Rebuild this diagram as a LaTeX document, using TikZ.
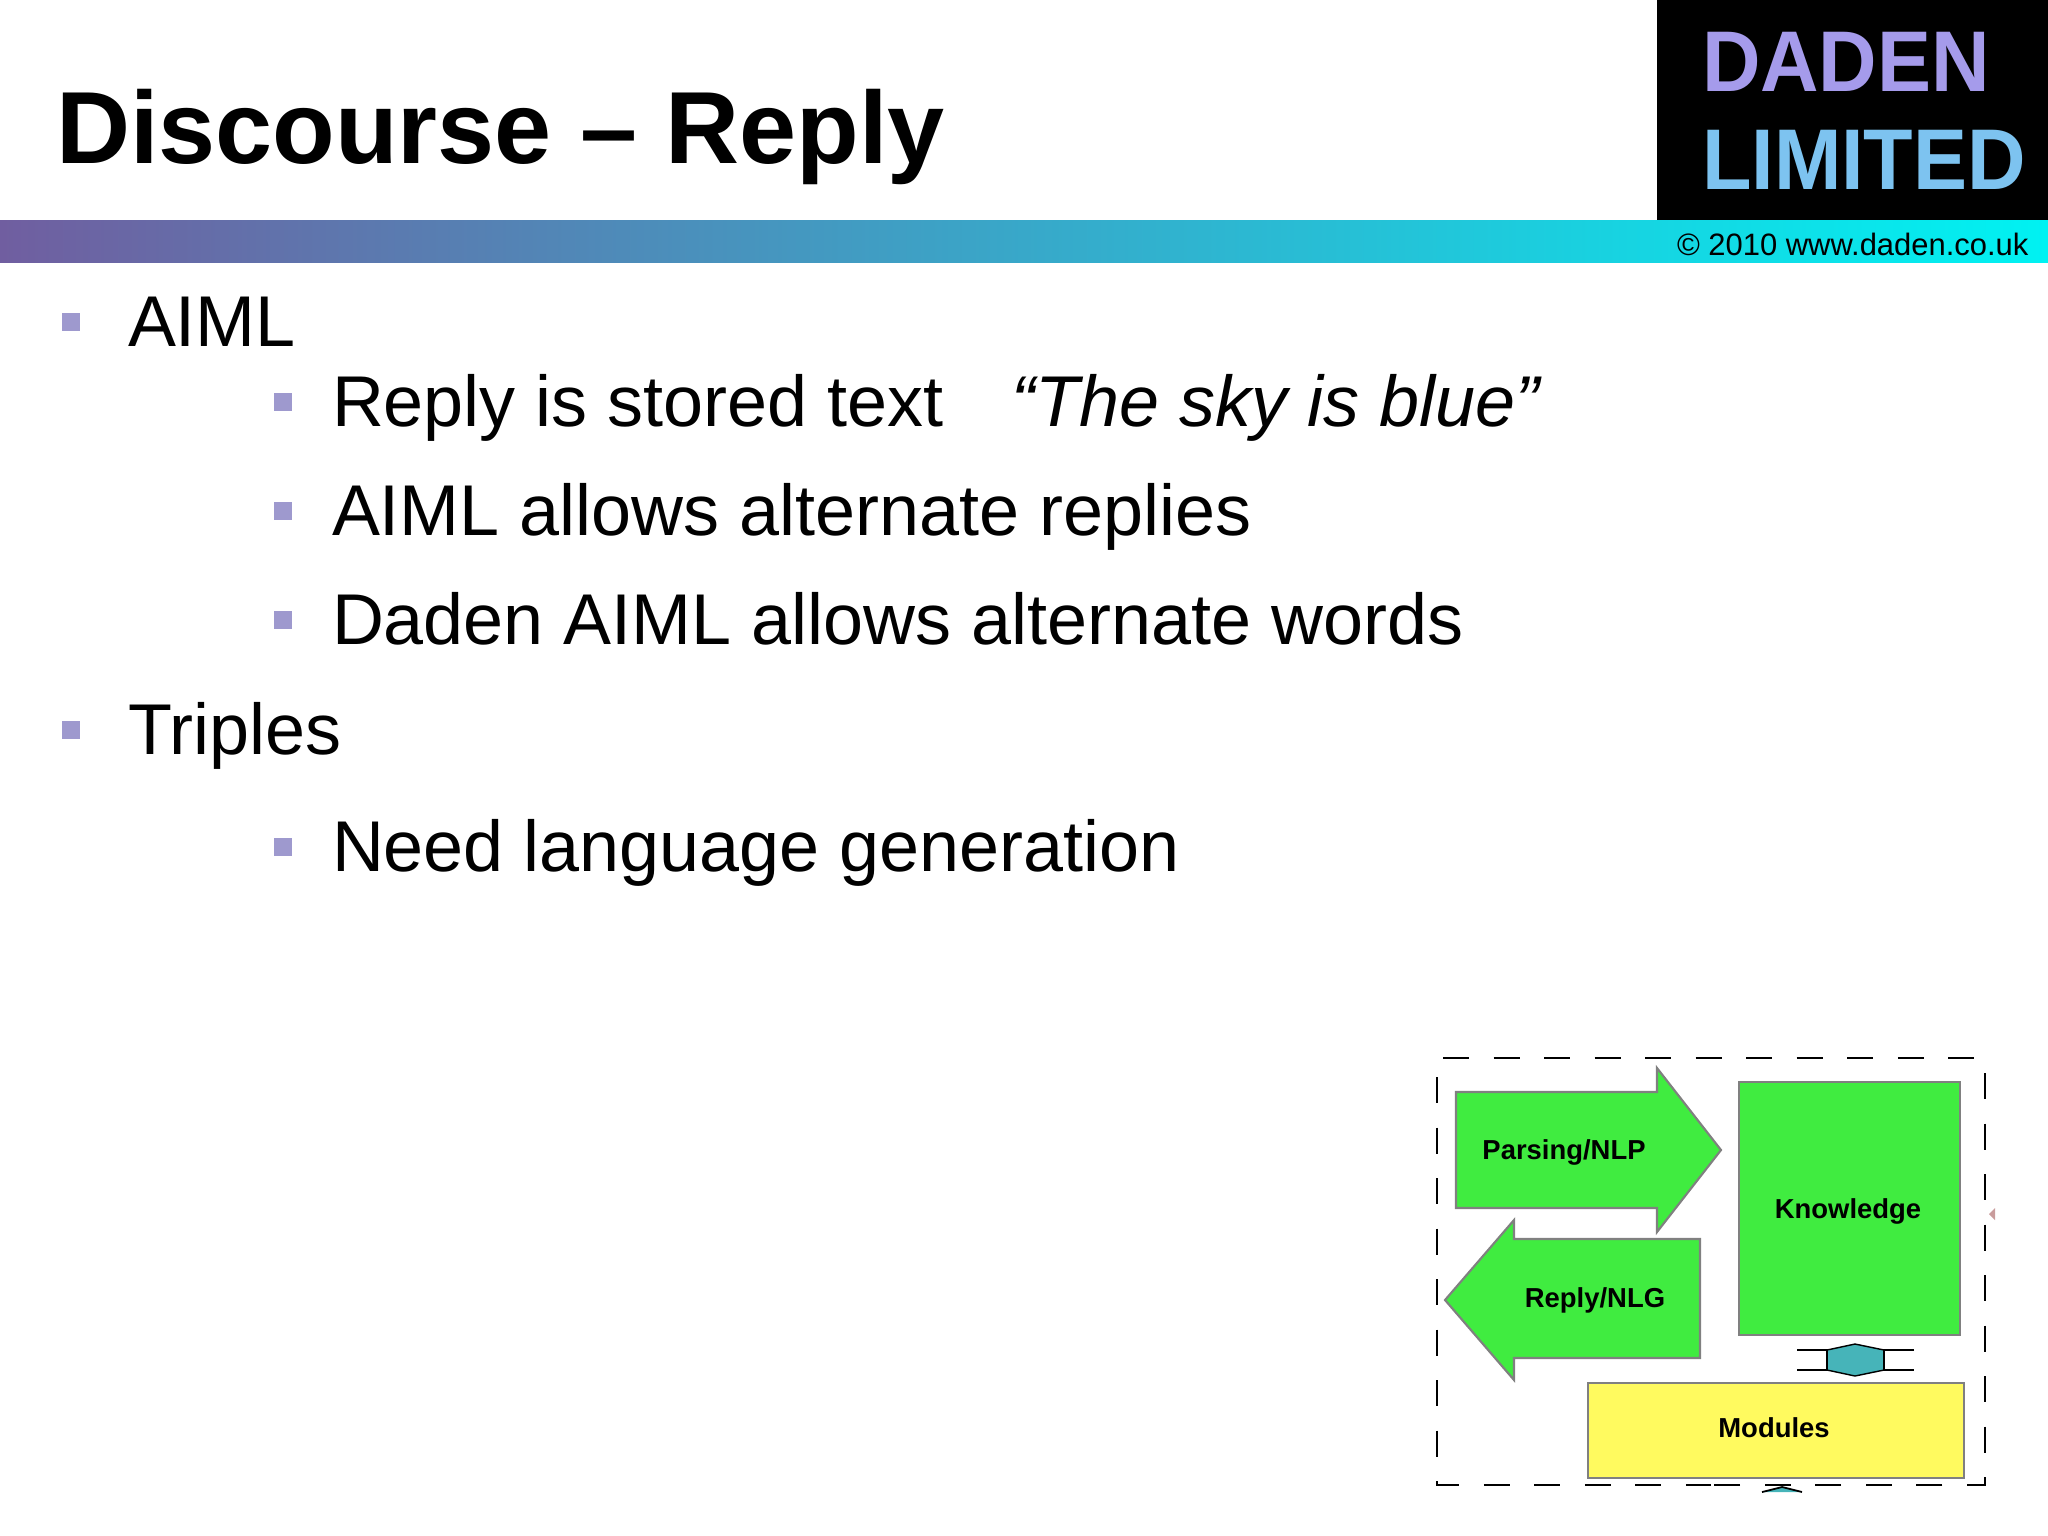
\documentclass[tikz,border=0pt]{standalone}
\usepackage{fontspec}
\setmainfont{Liberation Sans}
\newfontfamily\logofont[FakeStretch=0.94]{Liberation Sans}
\definecolor{barleft}{RGB}{112,94,160}
\definecolor{barright}{RGB}{0,242,242}
\definecolor{bulletblue}{RGB}{158,153,206}
\definecolor{boxgreen}{RGB}{64,236,64}
\definecolor{boxyellow}{RGB}{255,250,95}
\definecolor{boxteal}{RGB}{70,180,185}
\definecolor{logoviolet}{RGB}{165,155,235}
\definecolor{logoblue}{RGB}{125,195,240}
\tikzset{
    x=0.01cm, y=-0.01cm, % one unit is one pixel of the slide, counted from the top
    every node/.style={inner sep=0pt, outer sep=0pt},
    titletext/.style={anchor=base west, font=\fontsize{29.15}{34}\selectfont\bfseries},
    itemtext/.style={anchor=base west, font=\fontsize{20.45}{25}\selectfont},
    logotext/.style={anchor=base west, font=\fontsize{24.5}{29}\selectfont\logofont\bfseries},
    bulletbox/.style={minimum size=0.18cm, fill=bulletblue},
    shapeline/.style={draw=gray, line width=0.6pt},
    greenshape/.style={shapeline, fill=boxgreen},
    boxlabel/.style={font=\fontsize{7.8}{9}\selectfont\bfseries},
    dashline/.style={line width=0.7pt, dash pattern=on 0.26cm off 0.245cm},
    wingline/.style={line width=0.7pt},
}

\begin{document}
\begin{tikzpicture}
    \useasboundingbox (0,0) rectangle (2048,1535);

    % header
    \node[titletext] (title) at (56,163) {Discourse – Reply};
    \shade[left color=barleft, right color=barright] (0,220) rectangle (2048,262);
    \fill[black] (1657,0) rectangle (2048,220);
    \node[logotext, text=logoviolet] (daden) at (1702,91) {DADEN};
    \node[logotext, text=logoblue] (limited) at (1702,189) {LIMITED};
    \node[anchor=base west, font=\fontsize{8.8}{10}\selectfont] (copyright) at (1677,255) {© 2010 www.daden.co.uk};

    % bullets
    \node[bulletbox] (b1) at (71,322) {};
    \node[itemtext] (aiml) at (128,346) {AIML};
    \node[bulletbox] (b2) at (283,402) {};
    \node[itemtext] (stored) at (332,426) {Reply is stored text\hspace{0.68cm}\textit{“The sky is blue”}};
    \node[bulletbox] (b3) at (283,511) {};
    \node[itemtext] (alternate) at (332,535) {AIML allows alternate replies};
    \node[bulletbox] (b4) at (283,620) {};
    \node[itemtext] (words) at (332,644) {Daden AIML allows alternate words};
    \node[bulletbox] (b5) at (71,730) {};
    \node[itemtext] (triples) at (128,754) {Triples};
    \node[bulletbox] (b6) at (283,847) {};
    \node[itemtext] (generation) at (332,871) {Need language generation};

    % dashed frame
    \draw[dashline] (1443,1058) -- (1985,1058);
    \draw[dashline] (1437,1077) -- (1437,1485) -- (1711,1485);
    \draw[dashline] (1985,1073) -- (1985,1485) -- (1713,1485);

    % shapes of the small diagram
    \draw[greenshape] (1456,1092) -- (1657,1092) -- (1657,1068) -- (1721,1150) -- (1657,1232) -- (1657,1208) -- (1456,1208) -- cycle;
    \draw[greenshape] (1700,1239) -- (1514,1239) -- (1514,1220) -- (1445,1300) -- (1514,1380) -- (1514,1358) -- (1700,1358) -- cycle;
    \node[greenshape, minimum width=2.21cm, minimum height=2.53cm] (knowledge) at (1849.5,1208.5) {};
    \node[shapeline, fill=boxyellow, minimum width=3.76cm, minimum height=0.95cm] (modules) at (1776,1430.5) {};
    \node[boxlabel] (parsinglabel) at (1564,1152) {Parsing/NLP};
    \node[boxlabel] (replylabel) at (1595,1300) {Reply/NLG};
    \node[boxlabel] (knowledgelabel) at (1848,1211) {Knowledge};
    \node[boxlabel] (moduleslabel) at (1774,1428) {Modules};

    % teal link between knowledge and modules
    \fill[boxteal] (1827,1350) -- (1855,1344) -- (1884,1350) -- (1884,1370) -- (1855,1376) -- (1827,1370) -- cycle;
    \draw[wingline] (1797,1350) -- (1827,1350) -- (1827,1370) -- (1797,1370);
    \draw[wingline] (1914,1350) -- (1884,1350) -- (1884,1370) -- (1914,1370);
    \draw[line width=0.4pt] (1827,1350) -- (1855,1344) -- (1884,1350);
    \draw[line width=0.4pt] (1827,1370) -- (1855,1376) -- (1884,1370);

    % leftovers at the frame
    \fill[boxteal] (1762,1492) -- (1782,1487) -- (1802,1492) -- cycle;
    \draw[line width=0.5pt] (1762,1492) -- (1782,1487) -- (1802,1492);
    \fill[red!30!gray!60] (1989,1214) -- (1995,1208) -- (1995,1220) -- cycle;
\end{tikzpicture}
\end{document}
